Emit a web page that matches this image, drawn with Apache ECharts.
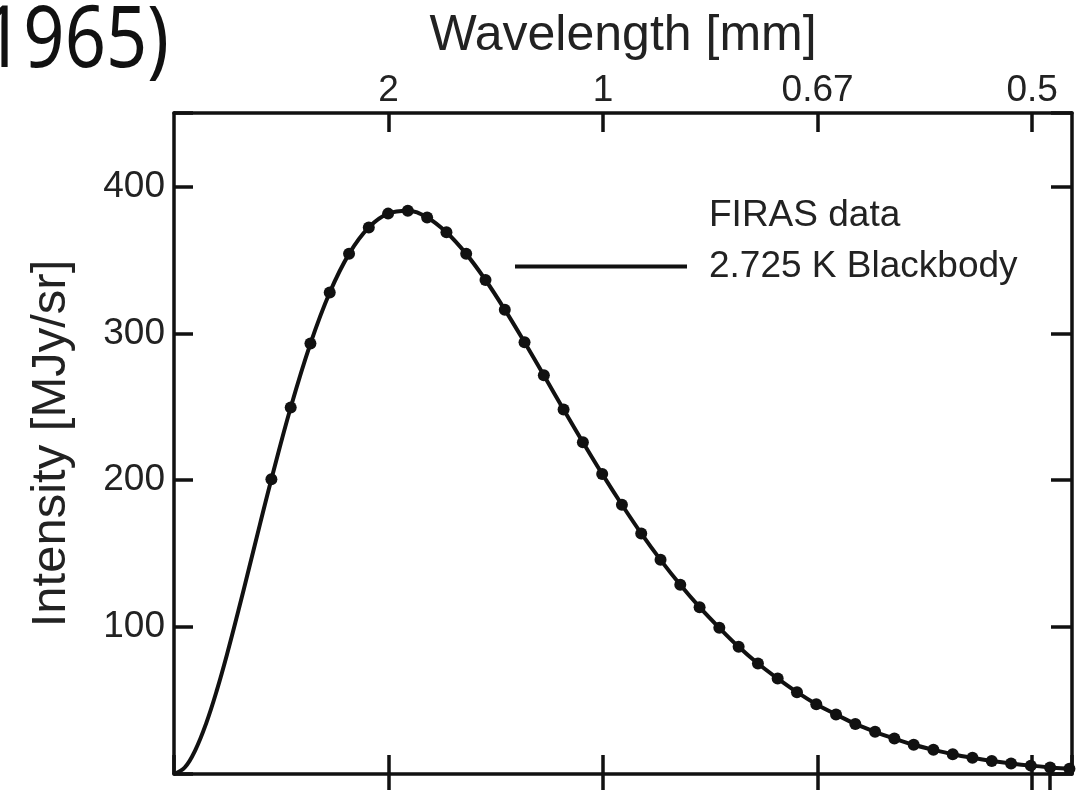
<!DOCTYPE html>
<html lang="en">
<head>
<meta charset="UTF-8">
<title>FIRAS spectrum</title>
<script src="https://cdn.jsdelivr.net/npm/echarts@6/dist/echarts.min.js"></script>
<style>
  * { margin: 0; padding: 0; }
  body { background: #fff; }
  #main { width: 1081px; height: 790px; }
</style>
</head>
<body>
<div id="main"></div>
<script>
// frequency in cm^-1, intensity in MJy/sr
const firasFreq = [2.27, 2.72, 3.18, 3.63, 4.08, 4.54, 4.99, 5.45, 5.90, 6.35, 6.81, 7.26, 7.71,
  8.17, 8.62, 9.08, 9.53, 9.98, 10.44, 10.89, 11.34, 11.80, 12.25, 12.71, 13.16, 13.61, 14.07,
  14.52, 14.97, 15.43, 15.88, 16.34, 16.79, 17.24, 17.70, 18.15, 18.61, 19.06, 19.51, 19.97,
  20.42, 20.87];
const firasIntensity = [200.7, 249.5, 293.0, 327.8, 354.1, 372.1, 381.5, 383.5, 378.9, 368.8,
  354.1, 336.3, 316.1, 293.9, 271.4, 248.2, 225.9, 204.3, 183.3, 163.8, 145.8, 128.8, 113.6,
  99.5, 86.6, 75.2, 65.0, 55.7, 47.5, 40.5, 34.1, 28.7, 24.1, 19.9, 16.5, 13.5, 11.0, 8.9,
  7.2, 5.7, 4.5, 3.5];
// low-frequency part of the blackbody curve (no data there)
const bbLowFreq = [0, 0.25, 0.5, 0.75, 1.0, 1.25, 1.5, 1.75, 2.0];
const bbLowIntensity = [0, 4.4, 16.5, 34.5, 57.1, 83.0, 111.1, 140.2, 169.6];

const intensityTicks = [100, 200, 300, 400];
const wavelengthLabels = { 5: '2', 10: '1', 15: '0.67', 20: '0.5' };

const bbData = bbLowFreq.map((f, i) => [f, bbLowIntensity[i]])
  .concat(firasFreq.map((f, i) => [f, firasIntensity[i]]));
const firasData = firasFreq.map((f, i) => [f, firasIntensity[i]]);

const ink = '#111';
const font = '"Liberation Sans", Arial, Helvetica, sans-serif';
const lineW = 3.5;

const chart = echarts.init(document.getElementById('main'));
chart.setOption({
  animation: false,
  textStyle: { fontFamily: font, color: '#222' },
  grid: [
    { left: 174, right: 9, top: 113, bottom: 16 },
    { left: 174, right: 9, top: 113, bottom: 16 }
  ],
  legend: {
    orient: 'vertical',
    left: 510,
    top: 192,
    itemWidth: 172,
    itemHeight: 4,
    itemGap: 14,
    textStyle: { fontSize: 37, color: '#222', fontFamily: font, padding: [0, 0, 0, 17] },
    data: [
      { name: 'FIRAS data', icon: 'none' },
      { name: '2.725 K Blackbody', icon: 'rect', itemStyle: { color: ink } }
    ]
  },
  graphic: [{
    type: 'text',
    x: 169,
    y: 43,
    scaleX: 0.85,
    style: {
      text: '1965)', font: '85px "Noto Sans", "Open Sans", sans-serif', fill: ink,
      textAlign: 'right', textVerticalAlign: 'middle'
    }
  }],
  xAxis: [
    {
      type: 'value', gridIndex: 0, position: 'bottom', min: 0, max: 20.93, interval: 5,
      axisLine: { show: true, onZero: false, lineStyle: { color: ink, width: lineW } },
      axisTick: { show: true, inside: true, length: 19, lineStyle: { color: ink, width: lineW } },
      axisLabel: { show: false },
      splitLine: { show: false }
    },
    {
      type: 'value', gridIndex: 0, position: 'top', min: 0, max: 20.93, interval: 5,
      name: 'Wavelength [mm]', nameLocation: 'middle', nameGap: 50,
      nameTextStyle: { fontSize: 50, color: '#222', fontFamily: font, padding: [0, 0, 2, 0] },
      axisLine: { show: true, onZero: false, lineStyle: { color: ink, width: lineW } },
      axisTick: { show: true, inside: true, length: 19, lineStyle: { color: ink, width: lineW } },
      axisLabel: {
        show: true, margin: 4, fontSize: 37, color: '#222', fontFamily: font,
        showMinLabel: false, showMaxLabel: false,
        formatter: v => wavelengthLabels[Math.round(v)] && Math.abs(v - Math.round(v)) < 1e-6 ? wavelengthLabels[Math.round(v)] : ''
      },
      splitLine: { show: false }
    },
    {
      // outside tick stubs running off the bottom edge
      type: 'value', gridIndex: 1, position: 'bottom', min: 0, max: 20.93,
      axisLine: { show: false },
      axisTick: { show: true, inside: false, length: 20, customValues: [5, 10, 15, 20, 20.4],
        lineStyle: { color: ink, width: lineW } },
      axisLabel: { show: false },
      splitLine: { show: false }
    }
  ],
  yAxis: [
    {
      type: 'value', gridIndex: 0, position: 'left', min: 0, max: 450, interval: 100,
      name: 'Intensity [MJy/sr]', nameLocation: 'middle', nameGap: 98,
      nameTextStyle: { fontSize: 49, color: '#222', fontFamily: font },
      axisLine: { show: true, onZero: false, lineStyle: { color: ink, width: lineW } },
      axisTick: { show: true, inside: true, length: 19, lineStyle: { color: ink, width: lineW } },
      axisLabel: {
        show: true, margin: 9, fontSize: 37, color: '#222', fontFamily: font,
        formatter: v => intensityTicks.includes(v) ? String(v) : ''
      },
      splitLine: { show: false }
    },
    {
      type: 'value', gridIndex: 0, position: 'right', min: 0, max: 450, interval: 100,
      axisLine: { show: true, onZero: false, lineStyle: { color: ink, width: lineW } },
      axisTick: { show: true, inside: true, length: 21, lineStyle: { color: ink, width: lineW } },
      axisLabel: { show: false },
      splitLine: { show: false }
    },
    {
      type: 'value', gridIndex: 1, min: 0, max: 450, show: false
    }
  ],
  series: [
    {
      name: '2.725 K Blackbody',
      type: 'line',
      xAxisIndex: 0, yAxisIndex: 0,
      data: bbData,
      smooth: 0.4,
      symbol: 'none',
      clip: true,
      lineStyle: { color: ink, width: 4 },
      itemStyle: { color: ink },
      z: 2
    },
    {
      name: 'FIRAS data',
      type: 'scatter',
      xAxisIndex: 0, yAxisIndex: 0,
      data: firasData,
      symbolSize: 12,
      itemStyle: { color: ink, opacity: 1 },
      z: 3
    }
  ]
});
</script>
</body>
</html>
